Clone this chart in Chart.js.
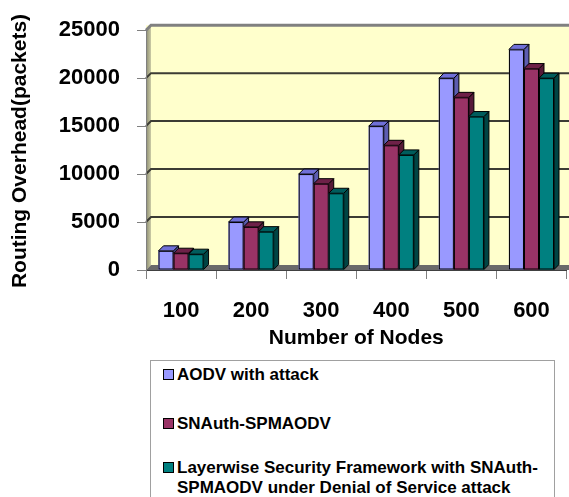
<!DOCTYPE html>
<html>
<head>
<meta charset="utf-8">
<script src="https://cdn.jsdelivr.net/npm/chart.js@4/dist/chart.umd.min.js"></script>
<style>
  body { margin: 0; background: #fff; font-family: 'Liberation Sans', Arial, sans-serif; overflow: hidden; }
  #wrap { position: absolute; left: 0; top: 0; width: 569px; height: 355px; }
  #legend { position: absolute; left: 150px; top: 360px; width: 403px; height: 160px; border: 1px solid #a0a0a0; }
  .item { position: absolute; left: 26px; font-weight: bold; font-size: 17px; line-height: 20px; white-space: nowrap; }
  .item i { position: absolute; left: -14px; top: 4px; width: 9px; height: 9px; border: 1px solid #000; }
</style>
</head>
<body>
<div id="wrap"><canvas id="chart"></canvas></div>
<div id="legend"></div>
<script>
const categories = ['100', '200', '300', '400', '500', '600']
const aodvAttack = [2000, 5000, 10000, 15000, 20000, 23000]
const snauthSpmaodv = [1750, 4500, 9000, 13000, 18000, 21000]
const layerwise = [1650, 4000, 8000, 12000, 16000, 20000]
const seriesNames = [
  'AODV with attack',
  'SNAuth-SPMAODV',
  'Layerwise Security Framework with SNAuth-\nSPMAODV under Denial of Service attack'
]
const xTitle = 'Number of Nodes'
const yTitle = 'Routing Overhead(packets)'

const FRONT = ['#9999FF', '#993366', '#008080']
const TOP = ['#7070d8', '#6e2148', '#005c5c']
const SIDE = ['#5c5cb0', '#561a38', '#004444']
const D = 5   // depth right
const DY = 5  // depth up
const FONT = "'Liberation Sans', Arial, sans-serif"

// legend (html)
const legend = document.getElementById('legend')
const tops = [4, 53, 97]
seriesNames.forEach((name, i) => {
  const el = document.createElement('div')
  el.className = 'item'
  el.style.top = tops[i] + 'px'
  const sw = document.createElement('i')
  sw.style.background = FRONT[i]
  el.appendChild(sw)
  name.split('\n').forEach((line, j) => {
    if (j) el.appendChild(document.createElement('br'))
    el.appendChild(document.createTextNode(line))
  })
  legend.appendChild(el)
})

const walls = {
  id: 'walls',
  beforeDraw(chart) {
    const { ctx, chartArea: { left: L, right: R, top: T, bottom: B } } = chart
    const W = chart.width
    const y = chart.scales.y
    ctx.save()
    // back wall
    ctx.fillStyle = '#FFFFCC'
    ctx.fillRect(L, T - DY, W - L, B - T + DY)
    // left wall
    const g = ctx.createLinearGradient(L, 0, L + D + 1, 0)
    g.addColorStop(0, '#8a8a70')
    g.addColorStop(1, '#d8d8b0')
    ctx.fillStyle = g
    ctx.beginPath()
    ctx.moveTo(L, T); ctx.lineTo(L + D, T - DY); ctx.lineTo(L + D, B - DY); ctx.lineTo(L, B)
    ctx.closePath(); ctx.fill()
    // floor
    ctx.fillStyle = '#6a6a6a'
    ctx.beginPath()
    ctx.moveTo(L, B); ctx.lineTo(L + D, B - DY); ctx.lineTo(W, B - DY); ctx.lineTo(W, B)
    ctx.closePath(); ctx.fill()
    // gridlines on the back wall
    y.ticks.forEach((t) => {
      if (t.value === 0) return
      const py = y.getPixelForValue(t.value)
      const isTop = t.value === y.max
      ctx.strokeStyle = isTop ? '#808080' : '#3c3c34'
      ctx.lineWidth = isTop ? 3 : 2
      ctx.beginPath()
      ctx.moveTo(L, py); ctx.lineTo(L + D, py - DY); ctx.lineTo(W, py - DY)
      ctx.stroke()
    })
    ctx.restore()
  },
  afterDatasetsDraw(chart) {
    const { ctx } = chart
    ctx.save()
    ctx.lineWidth = 1
    ctx.strokeStyle = '#000'
    chart.data.datasets.forEach((ds, i) => {
      chart.getDatasetMeta(i).data.forEach((bar) => {
        const { x, y, base, width } = bar.getProps(['x', 'y', 'base', 'width'], true)
        const l = x - width / 2
        const r = x + width / 2
        // side
        ctx.fillStyle = SIDE[i]
        ctx.beginPath()
        ctx.moveTo(r, y); ctx.lineTo(r + D, y - DY); ctx.lineTo(r + D, base - DY); ctx.lineTo(r, base)
        ctx.closePath(); ctx.fill(); ctx.stroke()
        // top
        ctx.fillStyle = TOP[i]
        ctx.beginPath()
        ctx.moveTo(l, y); ctx.lineTo(l + D, y - DY); ctx.lineTo(r + D, y - DY); ctx.lineTo(r, y)
        ctx.closePath(); ctx.fill(); ctx.stroke()
        // front
        ctx.fillStyle = FRONT[i]
        ctx.fillRect(l, y, width, base - y)
        ctx.strokeRect(l + 0.5, y + 0.5, width - 1, base - y - 1)
      })
    })
    ctx.restore()
  },
  afterDraw(chart) {
    const { ctx } = chart
    ctx.save()
    ctx.translate(20, 151)
    ctx.rotate(-Math.PI / 2)
    ctx.font = 'bold 21px ' + FONT
    ctx.fillStyle = '#000'
    ctx.textAlign = 'center'
    ctx.textBaseline = 'middle'
    ctx.fillText(yTitle, 0, 0)
    ctx.restore()
  }
}

new Chart(document.getElementById('chart'), {
  type: 'bar',
  plugins: [walls],
  data: {
    labels: categories,
    datasets: [
      { label: seriesNames[0], data: aodvAttack, backgroundColor: FRONT[0] },
      { label: seriesNames[1], data: snauthSpmaodv, backgroundColor: FRONT[1] },
      { label: seriesNames[2], data: layerwise, backgroundColor: FRONT[2] }
    ]
  },
  options: {
    responsive: true,
    maintainAspectRatio: false,
    animation: false,
    layout: { padding: { top: 15, right: 2, left: 0, bottom: 0 } },
    datasets: { bar: { categoryPercentage: 0.643, barPercentage: 1 } },
    plugins: {
      legend: { display: false },
      tooltip: { enabled: false }
    },
    scales: {
      x: {
        afterFit(scale) { scale.height = 85 },
        border: { display: true, color: '#404040', width: 1 },
        grid: { drawOnChartArea: false, drawTicks: true, tickLength: 9, color: '#808080' },
        ticks: { color: '#000', padding: 19, font: { family: FONT, size: 22, weight: 'bold' } },
        title: {
          display: true, text: xTitle, color: '#000',
          padding: { top: 0, bottom: 4 },
          font: { family: FONT, size: 21, weight: 'bold' }
        }
      },
      y: {
        min: 0,
        max: 25000,
        afterFit(scale) { scale.width = 146 },
        border: { display: true, color: '#808080', width: 1 },
        grid: { drawOnChartArea: false, drawTicks: true, tickLength: 9, color: '#808080' },
        ticks: {
          stepSize: 5000,
          color: '#000',
          padding: 17,
          font: { family: FONT, size: 22, weight: 'bold' },
          callback: (v) => String(v)
        }
      }
    }
  }
})
</script>
</body>
</html>
